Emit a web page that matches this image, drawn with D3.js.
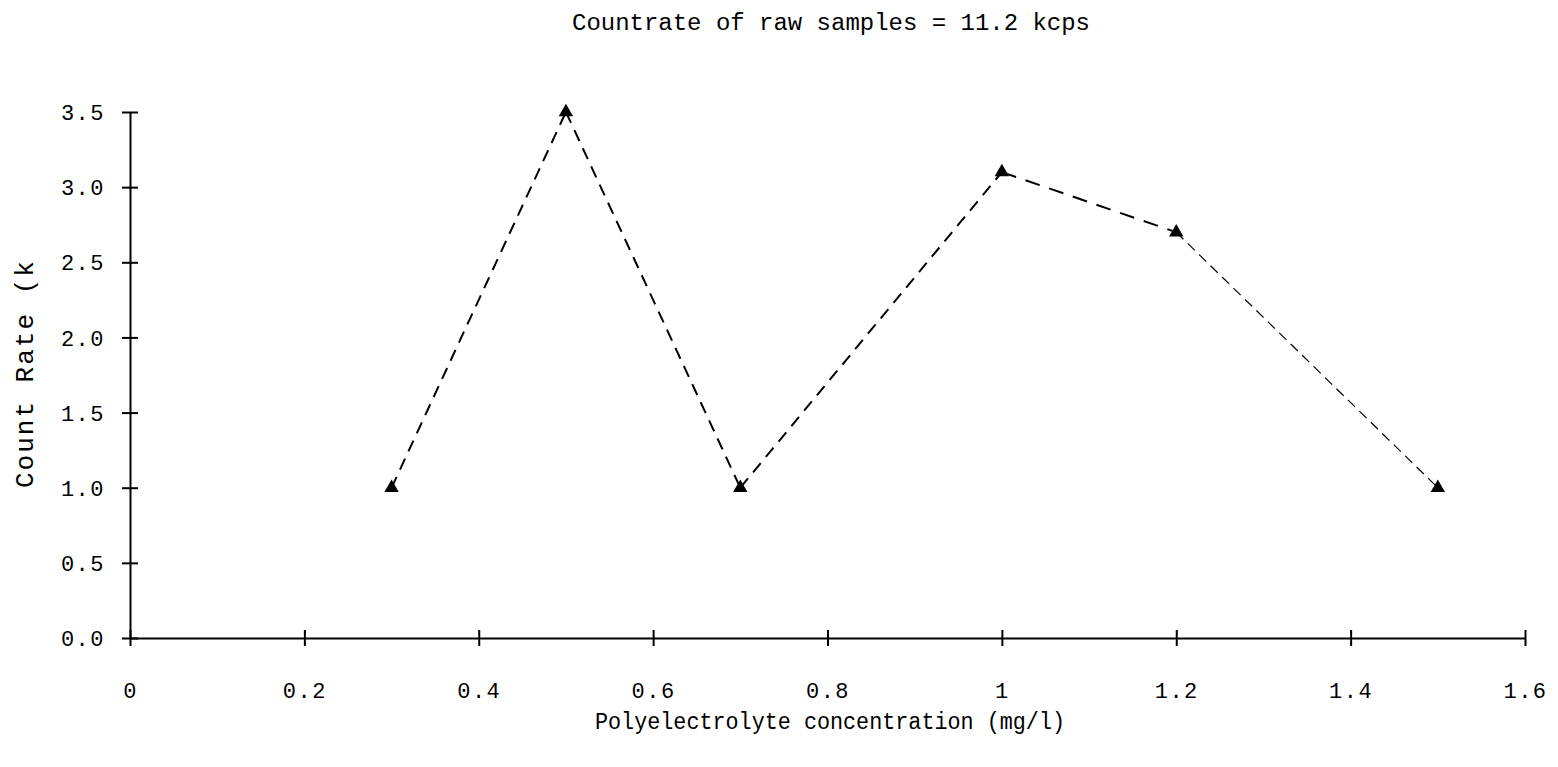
<!DOCTYPE html>
<html>
<head>
<meta charset="utf-8">
<script src="https://cdn.jsdelivr.net/npm/d3@7"></script>
<style>
  html, body { margin: 0; padding: 0; background: #fff; }
  svg { display: block; }
  text { font-family: "Liberation Mono", "DejaVu Sans Mono", monospace; fill: #000; }
</style>
</head>
<body>
<script>
// Polyelectrolyte dose series
const concentrations = [0.3, 0.5, 0.7, 1.0, 1.2, 1.5];
const countRates = [1.0, 3.5, 1.0, 3.1, 2.7, 1.0];

const xTicks = [0, 0.2, 0.4, 0.6, 0.8, 1.0, 1.2, 1.4, 1.6];
const xTickLabels = ["0", "0.2", "0.4", "0.6", "0.8", "1", "1.2", "1.4", "1.6"];
const yTicks = [0, 0.5, 1.0, 1.5, 2.0, 2.5, 3.0, 3.5];
const yTickLabels = ["0.0", "0.5", "1.0", "1.5", "2.0", "2.5", "3.0", "3.5"];

const titleText = "Countrate of raw samples =  11.2 kcps";
const xTitle = "Polyelectrolyte concentration (mg/l)";
const yTitle = "Count Rate (k";

const W = 1558, H = 767;
const svg = d3.select("body").append("svg").attr("width", W).attr("height", H);

const x = d3.scaleLinear().domain([0, 1.6]).range([130, 1525]);
const y = d3.scaleLinear().domain([0, 3.5]).range([638, 112]);

// x axis with ticks crossing the line
const xAxis = svg.append("g")
  .attr("transform", `translate(0,${y(0)})`)
  .call(d3.axisBottom(x).tickValues(xTicks)
    .tickFormat((d, i) => xTickLabels[i]).tickSizeOuter(0).tickPadding(0));
xAxis.attr("font-size", null).attr("font-family", null);
xAxis.select(".domain").attr("stroke", "#000").attr("stroke-width", 2);
xAxis.selectAll(".tick line").attr("y1", -8).attr("y2", 8).attr("stroke", "#000").attr("stroke-width", 2);
xAxis.selectAll(".tick text").attr("y", 60).attr("dy", 0)
  .style("font-size", "22px").style("letter-spacing", "1.5px");

// y axis with ticks crossing the line
const yAxis = svg.append("g")
  .attr("transform", `translate(${x(0)},0)`)
  .call(d3.axisLeft(y).tickValues(yTicks)
    .tickFormat((d, i) => yTickLabels[i]).tickSizeOuter(0).tickPadding(0));
yAxis.attr("font-size", null).attr("font-family", null);
yAxis.select(".domain").attr("stroke", "#000").attr("stroke-width", 2);
yAxis.selectAll(".tick line").attr("x1", -8).attr("x2", 8).attr("stroke", "#000").attr("stroke-width", 2);
yAxis.selectAll(".tick text").attr("x", -25).attr("dy", "0.35em")
  .style("font-size", "22px").style("letter-spacing", "1.5px");

// dashed connecting segments
const pts = concentrations.map((c, i) => [x(c), y(countRates[i])]);
const segs = d3.pairs(pts);
svg.append("g").selectAll("line")
  .data(segs)
  .join("line")
  .attr("x1", d => d[0][0]).attr("y1", d => d[0][1])
  .attr("x2", d => d[1][0]).attr("y2", d => d[1][1])
  .attr("stroke", "#000")
  .attr("stroke-width", (d, i) => i === segs.length - 1 ? 1.2 : 2)
  .attr("stroke-dasharray", (d, i) => i === segs.length - 1 ? "10,6" : (i === 3 ? "15,10" : "12,8"));

// triangle markers
svg.append("g").selectAll("path")
  .data(pts)
  .join("path")
  .attr("transform", d => `translate(${d[0]},${d[1]})`)
  .attr("d", d3.symbol().type(d3.symbolTriangle).size(90))
  .attr("fill", "#000");

// titles
svg.append("text")
  .attr("x", 831).attr("y", 30)
  .attr("text-anchor", "middle")
  .attr("textLength", 518).attr("lengthAdjust", "spacingAndGlyphs")
  .style("font-size", "23px")
  .text(titleText);

svg.append("text")
  .attr("x", 830).attr("y", 729)
  .attr("text-anchor", "middle")
  .attr("textLength", 470).attr("lengthAdjust", "spacingAndGlyphs")
  .style("font-size", "23px")
  .text(xTitle);

svg.append("text")
  .attr("transform", "translate(33,488) rotate(-90)")
  .attr("text-anchor", "start")
  .style("font-size", "26px")
  .style("letter-spacing", "2px")
  .text(yTitle);
</script>
</body>
</html>
